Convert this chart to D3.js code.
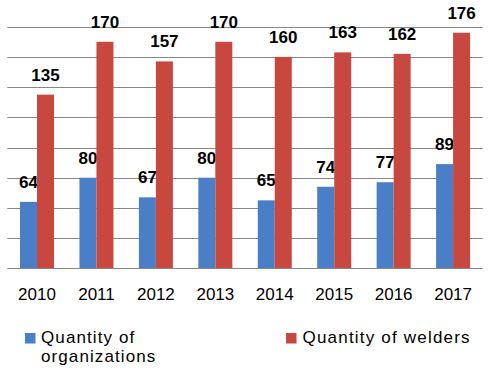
<!DOCTYPE html>
<html><head><meta charset="utf-8">
<script src="https://cdn.jsdelivr.net/npm/d3@7"></script>
<style>body{margin:0;background:#fff}svg{display:block}</style>
</head><body>
<svg id="chart" width="504" height="370"></svg>
<script>
const years = ["2010","2011","2012","2013","2014","2015","2016","2017"];
const organizations = [64, 80, 67, 80, 65, 74, 77, 89];
const welders = [135, 170, 157, 170, 160, 163, 162, 176];
const yTicks = [20, 40, 60, 80, 100, 120, 140, 160, 180];
const seriesNames = ["Quantity of organizations", "Quantity of welders"];
const colors = ["#4A7EC6", "#C8473F"];

const svg = d3.select("#chart");
const pL = 7.3, pR = 482.8, pT = 26.7, pB = 268.3;
const font = "'Liberation Sans', Arial, sans-serif";

const x = d3.scaleBand().domain(years).range([pL, pR]).paddingInner(0).paddingOuter(0);
const y = d3.scaleLinear().domain([20, 180]).range([pB, pT]);
const barW = x.bandwidth() * 0.286;

// gridlines
svg.append("g").selectAll("line").data(yTicks.slice(1)).join("line")
  .attr("x1", pL).attr("x2", pR)
  .attr("y1", d => Math.round(y(d)) + 0.5).attr("y2", d => Math.round(y(d)) + 0.5)
  .attr("stroke", "#878787").attr("stroke-width", 1);

const series = [organizations, welders];
series.forEach((vals, si) => {
  const g = svg.append("g");
  g.selectAll("rect").data(vals).join("rect")
    .attr("x", (d, i) => x(years[i]) + x.bandwidth() / 2 - barW + si * barW)
    .attr("width", barW)
    .attr("y", d => y(d))
    .attr("height", d => y(20) - y(d))
    .attr("fill", colors[si]);
  g.selectAll("text").data(vals).join("text")
    .attr("x", (d, i) => x(years[i]) + x.bandwidth() / 2 - barW / 2 + si * barW)
    .attr("y", d => y(d) - 14)
    .attr("text-anchor", "middle")
    .attr("font-family", font).attr("font-weight", "bold").attr("font-size", 17)
    .attr("fill", "#000")
    .text(d => d);
});

// x axis line
svg.append("line").attr("x1", pL).attr("x2", pR)
  .attr("y1", Math.round(pB) + 0.5).attr("y2", Math.round(pB) + 0.5)
  .attr("stroke", "#878787");

// x labels
const xAxis = d3.axisBottom(x).tickSize(0).tickPadding(0);
const ax = svg.append("g").attr("transform", `translate(0,${pB})`).call(xAxis);
ax.select(".domain").remove();
ax.selectAll("text").attr("font-family", font).attr("font-size", 17).attr("fill", "#000")
  .attr("dy", null).attr("y", 32);

// legend
const leg = svg.append("g");
leg.append("rect").attr("x", 25).attr("y", 333).attr("width", 10.5).attr("height", 10.5).attr("fill", colors[0]);
const t1 = leg.append("text").attr("font-family", font).attr("font-size", 17).attr("fill", "#000")
  .attr("letter-spacing", 1.1);
t1.append("tspan").attr("x", 41).attr("y", 343).text("Quantity of");
t1.append("tspan").attr("x", 41).attr("y", 362).text("organizations");
leg.append("rect").attr("x", 286).attr("y", 333).attr("width", 10.5).attr("height", 10.5).attr("fill", colors[1]);
leg.append("text").attr("x", 302.5).attr("y", 343).attr("font-family", font).attr("font-size", 17)
  .attr("letter-spacing", 1.2).attr("fill", "#000").text("Quantity of welders");
</script>
</body></html>
